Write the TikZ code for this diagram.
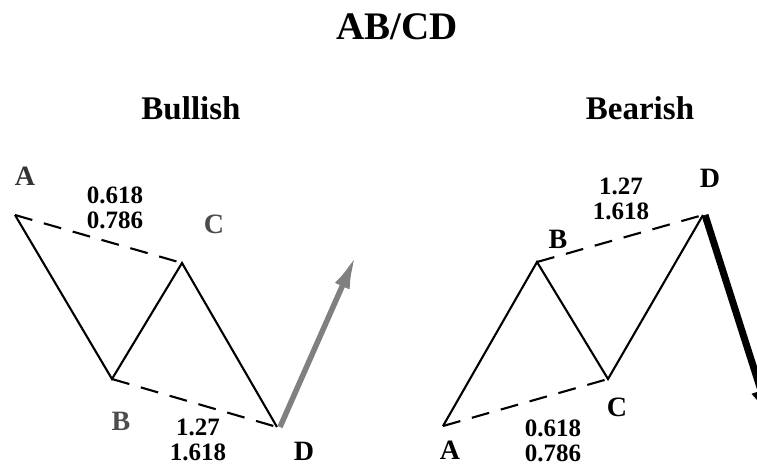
\documentclass[tikz,border=0pt]{standalone}
\usepackage{fontspec}
\setmainfont{Liberation Serif}
\usetikzlibrary{arrows.meta}
\tikzset{
  leg/.style={line width=2.1pt,line join=miter},
  ratio/.style={line width=2.1pt,dash pattern=on 18pt off 12pt},
  pt/.style={font=\fontsize{28}{28}\selectfont\bfseries},
  fib/.style={font=\fontsize{25}{25}\selectfont\bfseries,align=center},
  head/.style={font=\fontsize{33}{33}\selectfont\bfseries}
}
\begin{document}
\begin{tikzpicture}[x=1pt,y=-1pt]
\useasboundingbox (0,0) rectangle (757,467);
\node[head,font=\fontsize{39}{39}\selectfont\bfseries] (title) at (397,27) {AB/CD};
\node[head] (bull) at (191,108) {Bullish};
\node[head] (bear) at (640,108) {Bearish};
\coordinate (A1) at (15,215);
\coordinate (B1) at (112,379);
\coordinate (C1) at (182,263);
\coordinate (D1) at (277,427);
\coordinate (up) at (356,255);
\draw[leg] (A1) -- (B1) -- (C1) -- (D1);
\draw[ratio] (A1) -- (C1);
\draw[ratio] (B1) -- (D1);
\draw[line width=5.5pt,gray,-{Latex[length=34pt,width=16pt]}] ([xshift=3pt]D1) -- (up);
\node[pt,black!80] (lA1) at (25,176) {A};
\node[pt,black!70] (lB1) at (121,421) {B};
\node[pt,black!70] (lC1) at (214,224) {C};
\node[pt] (lD1) at (304,451) {D};
\node[fib] (f1) at (115,208) {0.618\\0.786};
\node[fib] (f2) at (198,440) {1.27\\1.618};
\coordinate (A2) at (443,426);
\coordinate (B2) at (537,262);
\coordinate (C2) at (608,379);
\coordinate (D2) at (703,215);
\coordinate (down) at (772,425);
\draw[leg] (A2) -- (B2) -- (C2) -- (D2);
\draw[ratio] (A2) -- (C2);
\draw[ratio] (B2) -- (D2);
\begin{scope}
\clip (0,0) rectangle (757,467);
\draw[line width=7pt,-{Latex[length=36pt,width=20pt]}] ([xshift=2pt]D2) -- (down);
\end{scope}
\node[pt,inner sep=0.5pt] (lA2) at (450,450) {A};
\node[pt] (lB2) at (558,239) {B};
\node[pt] (lC2) at (617,407) {C};
\node[pt] (lD2) at (710,178) {D};
\node[fib] (f3) at (621,199) {1.27\\1.618};
\node[fib] (f4) at (553,441) {0.618\\0.786};
\end{tikzpicture}
\end{document}
